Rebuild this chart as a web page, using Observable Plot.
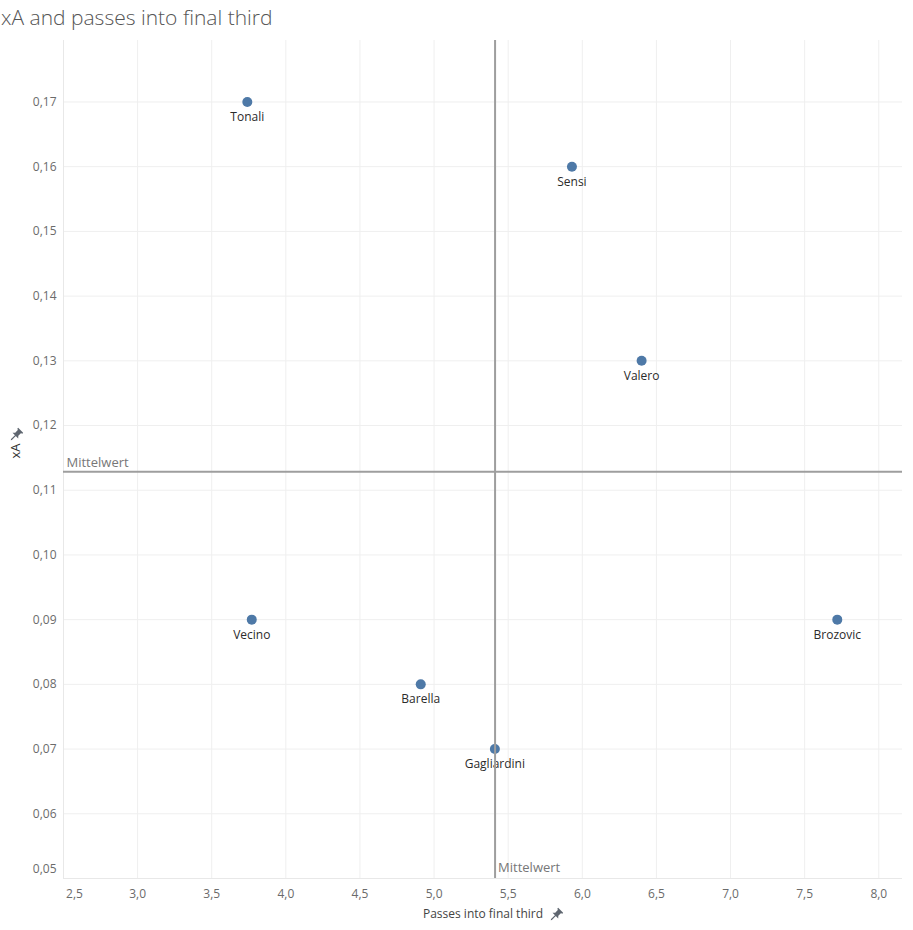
<!DOCTYPE html>
<html>
<head>
<meta charset="utf-8">
<script src="https://cdn.jsdelivr.net/npm/d3@7"></script>
<script src="https://cdn.jsdelivr.net/npm/@observablehq/plot@0.6"></script>
<style>
  html, body { margin: 0; padding: 0; background: #fff; }
  #title { box-sizing: border-box; height: 30px; padding-top: 5px; font-family: "Open Sans", sans-serif; font-weight: 300; font-size: 21px; line-height: 25px; color: #555; padding-left: 1px; white-space: nowrap; overflow: hidden; }
  #chart svg { display: block; }
</style>
</head>
<body>
<div id="title">xA and passes into final third</div>
<div id="chart"></div>
<script>
const players = ["Tonali", "Sensi", "Valero", "Vecino", "Brozovic", "Barella", "Gagliardini"];
const passes = [3.74, 5.93, 6.40, 3.77, 7.72, 4.91, 5.41];
const xA = [0.17, 0.16, 0.13, 0.09, 0.09, 0.08, 0.07];
const xTicks = [2.5, 3.0, 3.5, 4.0, 4.5, 5.0, 5.5, 6.0, 6.5, 7.0, 7.5, 8.0];
const yTicks = [0.05, 0.06, 0.07, 0.08, 0.09, 0.10, 0.11, 0.12, 0.13, 0.14, 0.15, 0.16, 0.17];
const xLabel = "Passes into final third";
const yLabel = "xA";
const meanLabel = "Mittelwert";

const data = players.map((p, i) => ({player: p, passes: passes[i], xA: xA[i]}));
const meanX = d3.mean(passes);
const meanY = d3.mean(xA);

const loc = d3.formatLocale({decimal: ",", thousands: ".", grouping: [3], currency: ["", "€"]});
const fx = loc.format(".1f");
const fy = loc.format(".2f");

const tickColor = "#6b6b6b";
const gridColor = "#efefef";

const plot = Plot.plot({
  width: 913,
  height: 900,
  marginLeft: 63,
  marginRight: 11,
  marginTop: 10,
  marginBottom: 52,
  style: {fontFamily: "'Open Sans', sans-serif", fontSize: "12px", color: tickColor, background: "#fff"},
  x: {domain: [2.5, 8.16]},
  y: {domain: [0.05, 0.1795]},
  marks: [
    Plot.gridX(xTicks.slice(1), {stroke: gridColor, strokeOpacity: 1}),
    Plot.gridY(yTicks.slice(1), {stroke: gridColor, strokeOpacity: 1}),
    Plot.ruleX([2.5], {stroke: "#e8e8e8"}),
    Plot.ruleY([0.05], {stroke: "#e8e8e8"}),
    Plot.axisX(xTicks.slice(1), {tickSize: 0, tickPadding: 11, tickFormat: fx, label: null, fill: tickColor}),
    Plot.axisX([2.5], {tickSize: 0, tickPadding: 11, tickFormat: fx, label: null, fill: tickColor, dx: 11}),
    Plot.axisY(yTicks.slice(1), {tickSize: 0, tickPadding: 7, tickFormat: fy, label: null, fill: tickColor}),
    Plot.axisY([0.05], {tickSize: 0, tickPadding: 7, tickFormat: fy, label: null, fill: tickColor, dy: -9}),
    Plot.text([xLabel], {text: d => d, frameAnchor: "bottom", dy: 39, fill: "#444", fontSize: 12}),
    Plot.text([yLabel], {text: d => d, frameAnchor: "left", dx: -48, dy: -1, rotate: -90, fill: "#333", fontSize: 13, letterSpacing: "1.5px"}),
    Plot.dot(data, {x: "passes", y: "xA", r: 5, fill: "#4e79a7", stroke: "none"}),
    Plot.text(data, {x: "passes", y: "xA", text: "player", dy: 15, fill: "#2b2b2b", fontSize: 12}),
    Plot.ruleX([meanX], {stroke: "#9e9e9e", strokeWidth: 2}),
    Plot.ruleY([meanY], {stroke: "#9e9e9e", strokeWidth: 2}),
    Plot.text([meanY], {y: d => d, text: () => meanLabel, frameAnchor: "left", textAnchor: "start", dx: 3, dy: -9, fill: "#777", fontSize: 13}),
    Plot.text([meanX], {x: d => d, text: () => meanLabel, frameAnchor: "bottom", textAnchor: "start", dx: 3, dy: -7, fill: "#777", fontSize: 13})
  ]
});

document.getElementById("chart").appendChild(plot);

// small pin glyphs next to the axis titles
const svg = d3.select(plot);
const pinPath = "M-3.5,-8 H3.5 V-6.5 H2.2 V-2.5 L4,-0.5 H-4 L-2.2,-2.5 V-6.5 H-3.5 Z M-0.6,-0.5 H0.6 V5 L0,6 L-0.6,5 Z";
function addPin(px, py) {
  svg.append("path").attr("d", pinPath).attr("fill", "#5f6670")
    .attr("transform", `translate(${px},${py}) rotate(45)`);
}
addPin(555, 886);
addPin(15, 406);
</script>
</body>
</html>
